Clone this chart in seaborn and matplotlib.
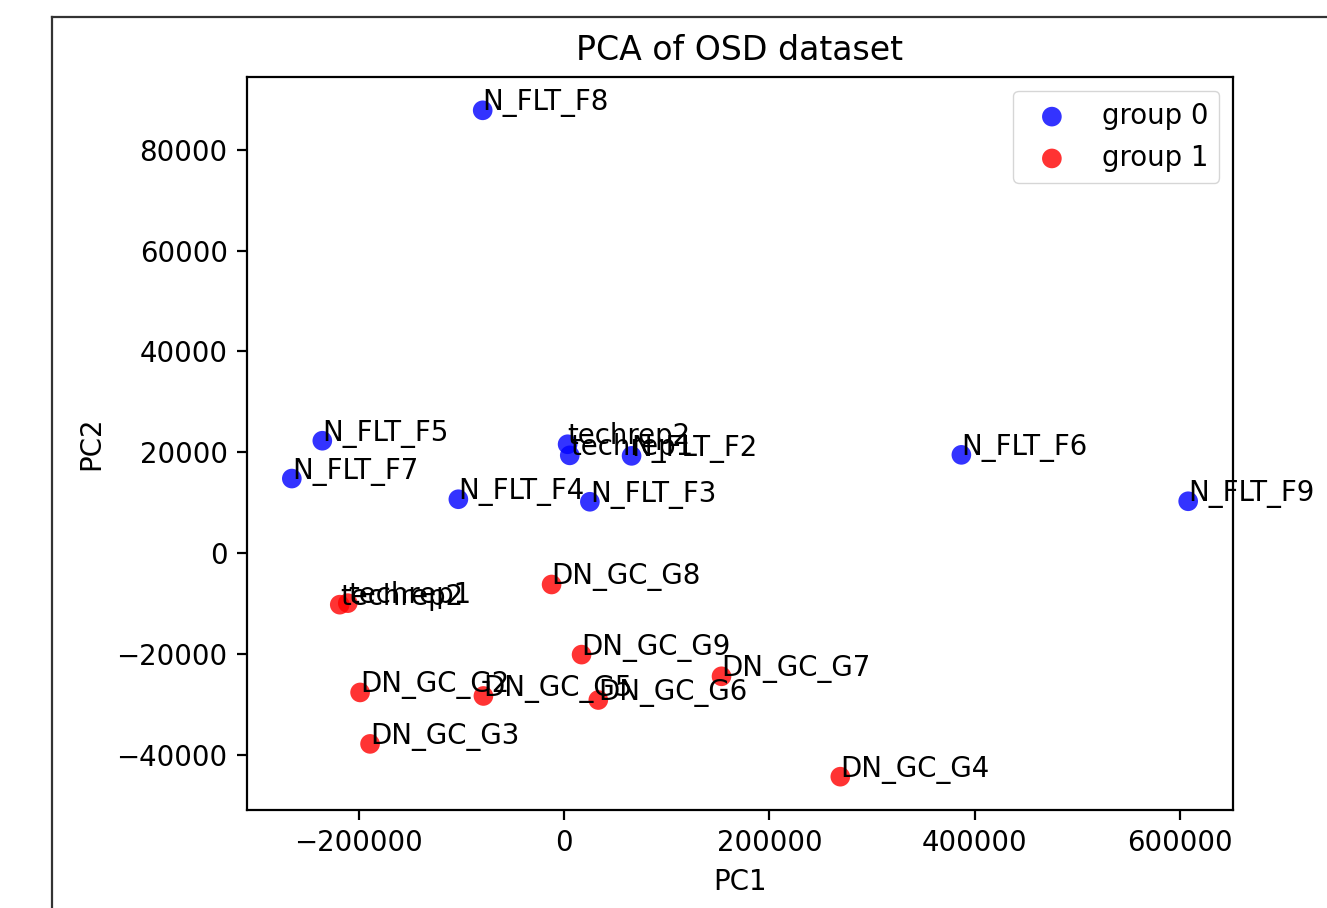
import numpy as np
import pandas as pd
import matplotlib
matplotlib.use("Agg")
import matplotlib.pyplot as plt
import seaborn as sns
from matplotlib.lines import Line2D

# sample labels and PCA coordinates
names_g0 = ['N_FLT_F8', 'N_FLT_F5', 'N_FLT_F7', 'N_FLT_F4', 'techrep2', 'techrep1',
            'N_FLT_F2', 'N_FLT_F3', 'N_FLT_F6', 'N_FLT_F9']
pc1_g0 = [-79300, -235500, -265200, -103000, 3400, 5500, 65700, 25100, 386900, 607800]
pc2_g0 = [87800, 22300, 14800, 10700, 21600, 19400, 19300, 10200, 19500, 10300]

names_g1 = ['techrep2', 'techrep1', 'DN_GC_G8', 'DN_GC_G9', 'DN_GC_G7', 'DN_GC_G2',
            'DN_GC_G5', 'DN_GC_G6', 'DN_GC_G3', 'DN_GC_G4']
pc1_g1 = [-218500, -210700, -12200, 17000, 153300, -198700, -78600, 33300, -189000, 269000]
pc2_g1 = [-10200, -9900, -6200, -20100, -24400, -27600, -28300, -29100, -37800, -44300]

group_labels = ['group 0', 'group 1']
group_colors = ['blue', 'red']

W, H = 1327, 908
k = 1.99  # the screenshot is a ~2x render of a default matplotlib figure
plt.rcParams['font.family'] = 'DejaVu Sans'
plt.rcParams['font.size'] = 10 * k
plt.rcParams['axes.linewidth'] = 0.8 * k
for a in ['xtick', 'ytick']:
    plt.rcParams[f'{a}.major.size'] = 3.5 * k
    plt.rcParams[f'{a}.major.width'] = 0.8 * k
    plt.rcParams[f'{a}.major.pad'] = 3.5 * k
plt.rcParams['axes.titlepad'] = 6 * k
plt.rcParams['axes.labelpad'] = 4 * k

df0 = pd.DataFrame({'pc1': pc1_g0, 'pc2': pc2_g0, 'name': names_g0})
df1 = pd.DataFrame({'pc1': pc1_g1, 'pc2': pc2_g1, 'name': names_g1})

fig = plt.figure(figsize=(W / 100, H / 100), dpi=100)
ax = fig.add_axes([247 / W, 1 - 810 / H, (1233 - 247) / W, (810 - 77) / H])

for d, lab, col in zip([df0, df1], group_labels, group_colors):
    sns.scatterplot(data=d, x='pc1', y='pc2', color=col, s=200, alpha=0.8,
                    linewidth=0, edgecolor='none', label=lab, ax=ax, legend=False)

for d in [df0, df1]:
    for r in d.itertuples(index=False):
        ax.annotate(r.name, (r.pc1, r.pc2), fontsize=10 * k)

ax.set_title('PCA of OSD dataset', fontsize=12 * k)
ax.set_xlabel('PC1')
ax.set_ylabel('PC2')
ax.legend(loc='upper right', fontsize=10 * k, borderpad=0.4, handletextpad=0.8)

# outer screenshot frame
fig.add_artist(Line2D([52 / W, 52 / W], [0, 1 - 17 / H], color='#333333', lw=1.6))
fig.add_artist(Line2D([52 / W, 1], [1 - 17 / H, 1 - 17 / H], color='#333333', lw=1.6))

fig.savefig('out.png', dpi=100)
